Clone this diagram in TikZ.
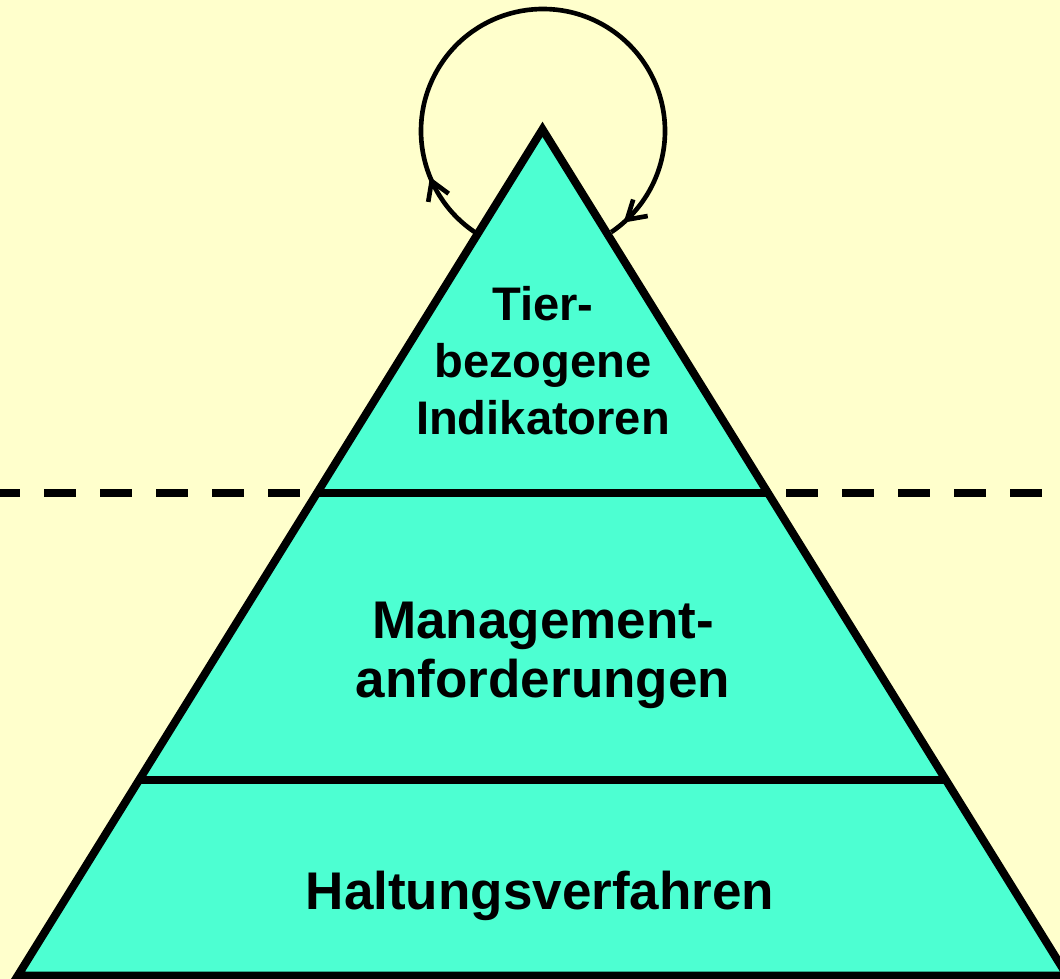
\documentclass[tikz,border=0pt]{standalone}
\usepackage{fontspec}
\setmainfont{Liberation Sans}
\usetikzlibrary{calc,arrows.meta,decorations.markings}
\definecolor{paleyellow}{RGB}{255,255,204}
\definecolor{pyramidgreen}{RGB}{77,255,210}

\begin{document}
\begin{tikzpicture}[x=0.025cm, y=-0.025cm,
    level/.style={font=\bfseries\fontsize{37.7}{42}\selectfont, align=center, inner sep=0pt},
    toplevel/.style={level, font=\bfseries\fontsize{33.5}{40.5}\selectfont},
    edge/.style={line width=5.7pt},
    divider/.style={line width=5.7pt, dash pattern=on 0.8cm off 0.6cm},
    loop arrow/.style={line width=3.3pt, postaction={decorate},
        decoration={markings,
            mark=at position 0.122 with {\arrow{Straight Barb[length=4.5mm,width=5.5mm]}},
            mark=at position 0.975 with {\arrow{Straight Barb[length=4.5mm,width=5.5mm]}}}}]
    % Background
    \fill[paleyellow] (0,0) rectangle (1060,979);
    \useasboundingbox (0,0) rectangle (1060,979);

    % Pyramid corners
    \coordinate (apex) at (542.5,129.3);
    \coordinate (bl) at (17.9,975.5);
    \coordinate (br) at (1067.1,975.5);
    \coordinate (d1l) at ($(apex)!0.4298!(bl)$);
    \coordinate (d1r) at ($(apex)!0.4298!(br)$);
    \coordinate (d2l) at ($(apex)!0.769!(bl)$);
    \coordinate (d2r) at ($(apex)!0.769!(br)$);

    % Loop above the apex
    \coordinate (loopc) at (543,131);
    \draw[loop arrow] ($(loopc)+(-238:122)$) arc[start angle=-238, end angle=56, radius=122];

    % Dashed border line
    \coordinate (dashLa) at (300,493);
    \coordinate (dashLb) at (0,493);
    \coordinate (dashRa) at (786,493);
    \coordinate (dashRb) at (1060,493);
    \draw[divider] (dashLa) -- (dashLb);
    \draw[divider] (dashRa) -- (dashRb);

    % Pyramid
    \fill[pyramidgreen] (apex) -- (bl) -- (br) -- cycle;
    \draw[edge] (d1l) -- (d1r);
    \draw[edge] (d2l) -- (d2r);
    \draw[edge, line join=miter] (apex) -- (bl) -- (br) -- cycle;

    % Levels
    \node[toplevel] (tier) at (543,361) {Tier-\\bezogene\\Indikatoren};
    \node[level] (mgmt) at (543,655) {Management-\\anforderungen};
    \node[level] (haltung) at (540,896) {Haltungsverfahren};
\end{tikzpicture}
\end{document}
